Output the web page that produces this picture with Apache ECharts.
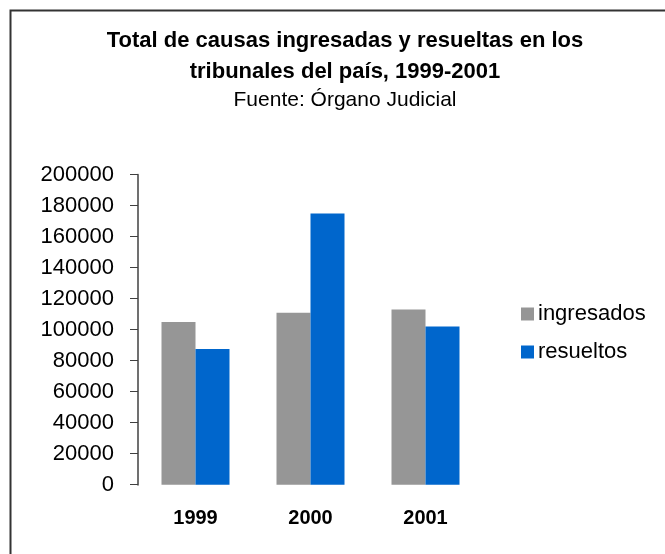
<!DOCTYPE html>
<html>
<head>
<meta charset="utf-8">
<script src="https://cdn.jsdelivr.net/npm/echarts@6/dist/echarts.min.js"></script>
<style>
html,body{margin:0;padding:0;background:#fff;}
#chart{width:665px;height:554px;}
</style>
</head>
<body>
<div id="chart"></div>
<script>
const categories = ['1999', '2000', '2001'];
const ingresados = [105000, 111000, 113000];
const resueltos = [87500, 175000, 102000];
const seriesNames = ['ingresados', 'resueltos'];
const titleText = 'Total de causas ingresadas y resueltas en los\ntribunales del país, 1999-2001';
const subtitleText = 'Fuente: Órgano Judicial';

const FONT = '"Liberation Sans", Arial, sans-serif';
const chart = echarts.init(document.getElementById('chart'), null, {renderer: 'canvas'});
chart.setOption({
  backgroundColor: '#ffffff',
  animation: false,
  graphic: [{
    type: 'rect',
    left: 8, top: 8,
    shape: {width: 700, height: 600},
    style: {fill: 'none', stroke: '#333333', lineWidth: 2}
  }],
  title: {
    text: titleText,
    subtext: subtitleText,
    left: 345,
    top: 25,
    textAlign: 'center',
    padding: 0,
    itemGap: 0,
    textStyle: {fontFamily: FONT, fontSize: 22, fontWeight: 'bold', color: '#000', lineHeight: 31},
    subtextStyle: {fontFamily: FONT, fontSize: 21, color: '#000', lineHeight: 26}
  },
  legend: {
    orient: 'vertical',
    left: 516,
    top: 298,
    itemWidth: 13,
    itemHeight: 13,
    itemGap: 16,
    icon: 'rect',
    textStyle: {fontFamily: FONT, fontSize: 22, color: '#000', lineHeight: 22, padding: [0, 0, 0, -1]},
    data: seriesNames
  },
  grid: {left: 138, right: 182, top: 174.7, bottom: 69.3, containLabel: false},
  xAxis: {
    type: 'category',
    data: categories,
    axisLine: {show: false},
    axisTick: {show: false},
    axisLabel: {fontFamily: FONT, fontSize: 20, fontWeight: 'bold', color: '#000', margin: 24}
  },
  yAxis: {
    type: 'value',
    min: 0, max: 200000, interval: 20000,
    axisLine: {show: true, lineStyle: {color: '#707070', width: 2}},
    axisTick: {show: true, length: 8, lineStyle: {color: '#404040', width: 1}},
    splitLine: {show: false},
    axisLabel: {fontFamily: FONT, fontSize: 22, color: '#000', margin: 24, formatter: function (v) { return String(v); }}
  },
  series: [
    {name: seriesNames[0], type: 'bar', data: ingresados, barWidth: 34, barGap: '0%', itemStyle: {color: '#969696'}},
    {name: seriesNames[1], type: 'bar', data: resueltos, barWidth: 34, barGap: '0%', itemStyle: {color: '#0066cc'}}
  ]
});
</script>
</body>
</html>
